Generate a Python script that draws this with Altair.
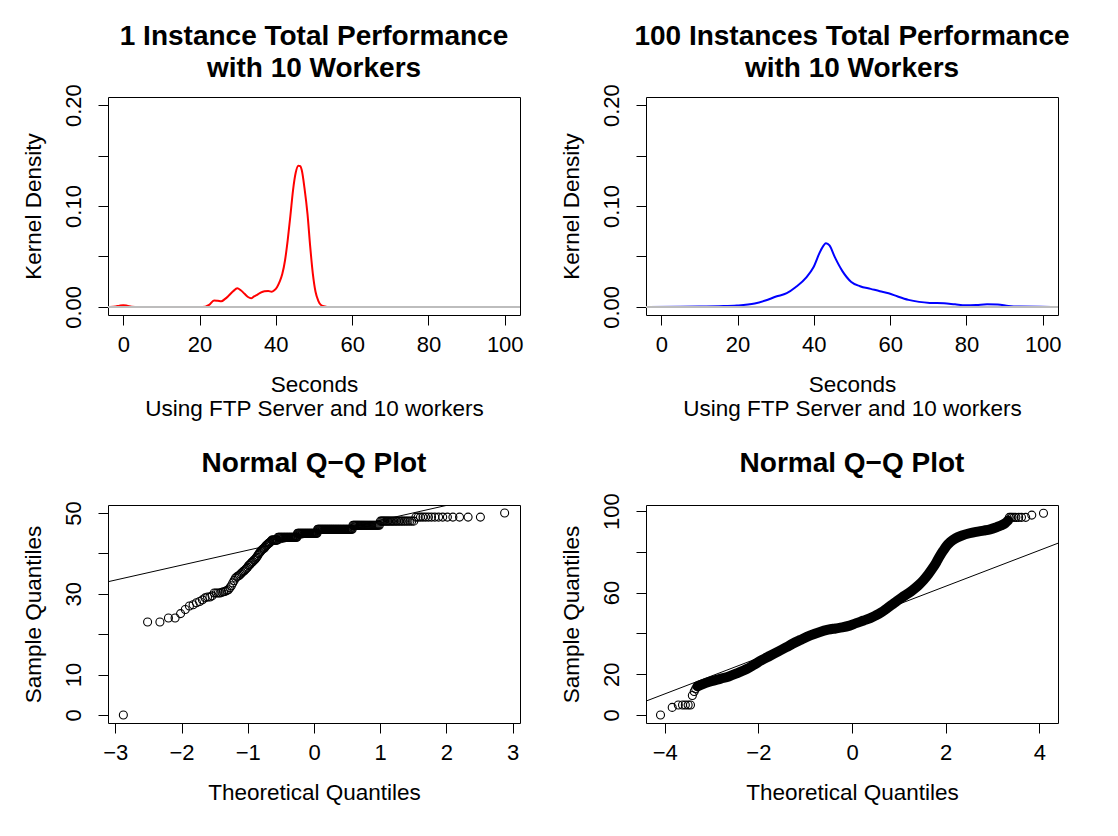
import altair as alt
import pandas as pd

FONT = "Liberation Sans"

# ---------------- Panel 1: kernel density, 1 instance (red) ----------------
D1_SECONDS = [-3.5, -2, -1, 0, 1, 2.2, 4, 10, 15, 20, 21.5, 22.5, 23.8, 24.8, 25.7,
              26.7, 27.6, 28.8, 29.9, 30.8, 31.8, 32.7, 33.5, 34.3, 35.1, 36.0, 37.0,
              38.0, 38.9, 39.6, 40.3, 41.0, 41.7, 42.4, 43.1, 43.8, 44.5, 45.2, 45.9,
              46.4, 46.8, 47.5, 48.3, 49.0, 49.7, 50.4, 51.1, 51.8, 52.5, 53.4]
D1_DENSITY = [0.0, 0.0005, 0.0012, 0.0017, 0.0012, 0.0003, 0.0, 0.0, 0.0, 0.0, 0.0003,
              0.002, 0.0063, 0.006, 0.0056, 0.008, 0.011, 0.0155, 0.0185, 0.0165, 0.013,
              0.0098, 0.0086, 0.0105, 0.012, 0.0142, 0.0156, 0.0158, 0.015, 0.0165,
              0.0195, 0.025, 0.0328, 0.046, 0.066, 0.09, 0.1156, 0.133, 0.140, 0.1395,
              0.1354, 0.118, 0.092, 0.06, 0.0328, 0.015, 0.0063, 0.002, 0.0007, 0.0]

# ---------------- Panel 2: kernel density, 100 instances (blue) ----------------
D2_SECONDS = [-3.2, 5, 10, 15.1, 19.8, 24.5, 27.3, 30.1, 32.9, 35.2, 38.1, 39.9, 41.8,
              43.2, 44.1, 45.5, 47.4, 49.8, 52.1, 54.9, 57.3, 59.6, 62.0, 64.8, 67.6,
              70.4, 74.1, 77.0, 79.8, 82.6, 85.4, 88.2, 91.0, 93.8, 102.3]
D2_DENSITY = [0.0, 0.0001, 0.0003, 0.0007, 0.0013, 0.0033, 0.0063, 0.0103, 0.0136,
              0.0195, 0.0295, 0.0394, 0.056, 0.0632, 0.061, 0.0493, 0.036, 0.0248,
              0.0205, 0.0179, 0.0156, 0.0136, 0.0103, 0.007, 0.005, 0.004, 0.0036,
              0.0026, 0.0017, 0.002, 0.0026, 0.0023, 0.001, 0.0003, 0.0]

DENSITY_TICKS_X = [0, 20, 40, 60, 80, 100]
DENSITY_TICKS_Y = [0, 0.05, 0.10, 0.15, 0.20]

# ---------------- Panel 3: Q-Q, 1 instance (sorted sample values with counts) --------
P3_VALUES = [0, 23.0, 23.0, 24.0, 24.0, 25.1, 26.1, 27.0, 27.3, 27.8, 28.1, 28.5, 29.0,
             29.2, 29.2, 29.5, 30.2, 30.2, 30.2, 30.2, 30.4, 30.5, 30.6, 30.8, 31.0,
             31.5, 32.0, 32.7, 33.3, 33.9, 34.2, 34.4, 34.6, 34.9, 35.2, 35.5, 35.7,
             36.0, 36.3, 36.6, 37.0, 37.2, 37.5, 37.8, 38.0, 38.3, 38.5, 38.8, 39.1,
             39.5, 39.9, 40.2, 40.5, 40.8, 41.0, 41.2, 41.3, 41.6, 41.9, 42.1, 42.3,
             42.5, 42.6, 42.8, 43.0, 43.3, 44, 45, 46, 47, 48, 49, 50]
P3_COUNTS = [1] * 65 + [8, 27, 30, 50, 30, 24, 15, 1]
P3_QQLINE = {"intercept": 44.5, "slope": 3.7}
P3_TICKS_X = [-3, -2, -1, 0, 1, 2, 3]
P3_TICKS_Y = [0, 10, 20, 30, 40, 50]

# ---------------- Panel 4: Q-Q, 100 instances ----------------
P4_BAND_THEO = [-3.30, -3.20, -3.01, -2.80, -2.63, -2.45, -2.25, -2.10, -1.91, -1.75,
                -1.57, -1.40, -1.27, -1.10, -0.89, -0.70, -0.51, -0.35, -0.21, -0.05,
                0.09, 0.25, 0.39, 0.50, 0.62, 0.75, 0.85, 0.96, 1.07, 1.19, 1.30, 1.42,
                1.53, 1.63, 1.72, 1.80, 1.87, 1.95, 2.02, 2.10, 2.21, 2.35, 2.51, 2.65,
                2.81, 2.95, 3.08, 3.18, 3.27, 3.33]
P4_BAND_SAMPLE = [14.0, 15.0, 16.5, 17.8, 18.9, 20.5, 22.5, 24.5, 27.1, 29.0, 31.2,
                  33.2, 34.9, 36.8, 39.0, 40.6, 41.8, 42.4, 42.9, 43.8, 45.0, 46.3,
                  47.5, 48.7, 50.2, 52.3, 54.0, 55.9, 57.7, 59.5, 61.3, 63.6, 66.2,
                  69.0, 71.9, 74.8, 77.7, 80.6, 82.9, 84.8, 86.6, 88.0, 89.1, 89.8,
                  90.4, 91.0, 92.0, 92.9, 94.0, 95.3]
P4_PTS_THEO = [-4.09, -3.84, -3.71, -3.62, -3.56, -3.50, -3.45, -3.41, -3.37, -3.34,
               3.36, 3.39, 3.42, 3.46, 3.50, 3.56, 3.62, 3.71, 3.84, 4.09]
P4_PTS_SAMPLE = [0.0, 3.7, 4.9, 4.9, 4.9, 4.9, 4.9, 9.5, 11.5, 12.8,
                 96.9, 96.9, 96.9, 96.9, 96.9, 96.9, 96.9, 96.9, 98.0, 98.9]
P4_QQLINE = {"intercept": 45.5, "slope": 8.8}
P4_TICKS_X = [-4, -2, 0, 2, 4]
P4_TICKS_Y = [0, 20, 40, 60, 80, 100]

W, H = 412, 218
POINT_SIZE = 64


def hide_expr(hidden):
    cond = " || ".join(f"abs(datum.value - {h}) < 1e-9" for h in hidden)
    return f"({cond}) ? '' : datum.label"


def density_panel(xs, ys, color, title):
    df = pd.DataFrame({"x": xs, "y": ys})
    xsc = alt.Scale(domain=[-4, 104], nice=False, zero=False)
    ysc = alt.Scale(domain=[-0.008, 0.208], nice=False, zero=False)
    line = alt.Chart(df).mark_line(color=color, strokeWidth=2,
                                   interpolate="monotone", clip=True).encode(
        x=alt.X("x:Q", scale=xsc,
                axis=alt.Axis(values=DENSITY_TICKS_X, format="d",
                              title=["Seconds", "Using FTP Server and 10 workers"])),
        y=alt.Y("y:Q", scale=ysc,
                axis=alt.Axis(values=DENSITY_TICKS_Y, format=".2f",
                              labelExpr=hide_expr([0.05, 0.15]),
                              title="Kernel Density")),
    )
    zero = alt.Chart(df).mark_rule(color="#BEBEBE", strokeWidth=1).encode(
        y=alt.datum(0))
    return alt.layer(line, zero).properties(
        width=W, height=H,
        title=alt.TitleParams(text=title, offset=0.5, lineHeight=32, frame="group"))


def qq_line_layer(domain, params, xsc, ysc):
    df = pd.DataFrame({"x": domain})
    return alt.Chart(df).transform_calculate(
        y=f"{params['intercept']} + {params['slope']} * datum.x"
    ).mark_line(color="black", strokeWidth=1, clip=True).encode(
        x=alt.X("x:Q", scale=xsc), y=alt.Y("y:Q", scale=ysc))


# Panel 3
p3_sample = [v for v, c in zip(P3_VALUES, P3_COUNTS) for _ in range(c)]
df3 = pd.DataFrame({"sample": p3_sample})
x3 = alt.Scale(domain=[-3.11, 3.11], nice=False, zero=False)
y3 = alt.Scale(domain=[-2, 52], nice=False, zero=False)
pts3 = alt.Chart(df3).transform_window(
    rank="row_number()", sort=[alt.SortField("sample")]
).transform_joinaggregate(n="count()").transform_calculate(
    theo="quantileNormal((datum.rank - 0.5) / datum.n)"
).mark_point(shape="circle", filled=False, color="black", size=POINT_SIZE,
             strokeWidth=1.1, opacity=1).encode(
    x=alt.X("theo:Q", scale=x3,
            axis=alt.Axis(values=P3_TICKS_X, format="d", title="Theoretical Quantiles")),
    y=alt.Y("sample:Q", scale=y3,
            axis=alt.Axis(values=P3_TICKS_Y, format="d", labelExpr=hide_expr([20, 40]),
                          title="Sample Quantiles")),
)
panel3 = alt.layer(pts3, qq_line_layer([-3.11, 3.11], P3_QQLINE, x3, y3)).properties(
    width=W, height=H,
    title=alt.TitleParams(text="Normal Q\u2212Q Plot", offset=23, frame="group"))

# Panel 4
x4 = alt.Scale(domain=[-4.4, 4.4], nice=False, zero=False)
y4 = alt.Scale(domain=[-3.96, 102.96], nice=False, zero=False)
df4b = pd.DataFrame({"theo": P4_BAND_THEO, "sample": P4_BAND_SAMPLE})
df4p = pd.DataFrame({"theo": P4_PTS_THEO, "sample": P4_PTS_SAMPLE})
band4 = alt.Chart(df4b).mark_line(color="black", strokeWidth=10, strokeCap="round",
                                  strokeJoin="round", interpolate="monotone").encode(
    x=alt.X("theo:Q", scale=x4,
            axis=alt.Axis(values=P4_TICKS_X, format="d", title="Theoretical Quantiles")),
    y=alt.Y("sample:Q", scale=y4,
            axis=alt.Axis(values=P4_TICKS_Y, format="d", labelExpr=hide_expr([40, 80]),
                          title="Sample Quantiles")),
)
pts4 = alt.Chart(df4p).mark_point(shape="circle", filled=False, color="black",
                                  size=POINT_SIZE, strokeWidth=1.1, opacity=1).encode(
    x=alt.X("theo:Q", scale=x4), y=alt.Y("sample:Q", scale=y4))
panel4 = alt.layer(band4, pts4, qq_line_layer([-4.4, 4.4], P4_QQLINE, x4, y4)).properties(
    width=W, height=H,
    title=alt.TitleParams(text="Normal Q\u2212Q Plot", offset=15, frame="group"))

panel1 = density_panel(D1_SECONDS, D1_DENSITY, "#FF0000",
                       ["1 Instance Total Performance", "with 10 Workers"])
panel2 = density_panel(D2_SECONDS, D2_DENSITY, "#0000FF",
                       ["100 Instances Total Performance", "with 10 Workers"])

chart = alt.concat(panel1, panel2, panel3, panel4, columns=2,
                   spacing={"row": 190, "column": 126}, bounds="flush").properties(
    padding={"left": 13, "top": 14, "right": 5, "bottom": 5},
    background="white",
).configure(font=FONT).configure_view(
    stroke="black", strokeWidth=1
).configure_axis(
    domain=False, grid=False, ticks=True, tickColor="black", tickSize=10, tickWidth=1,
    labelFont=FONT, labelFontSize=22, labelColor="black", labelPadding=9,
    labelFlush=False, labelOverlap=False,
    titleFont=FONT, titleFontSize=22.5, titleFontWeight="normal", titleColor="black",
    titlePadding=18, titleLineHeight=24,
).configure_axisY(
    labelAngle=270, labelAlign="center", labelBaseline="bottom", labelPadding=13,
    titlePadding=17,
).configure_title(
    font=FONT, fontSize=28, fontWeight="bold", color="black", anchor="middle",
)

chart.save("out.html", embed_options={"renderer": "svg", "actions": False})
